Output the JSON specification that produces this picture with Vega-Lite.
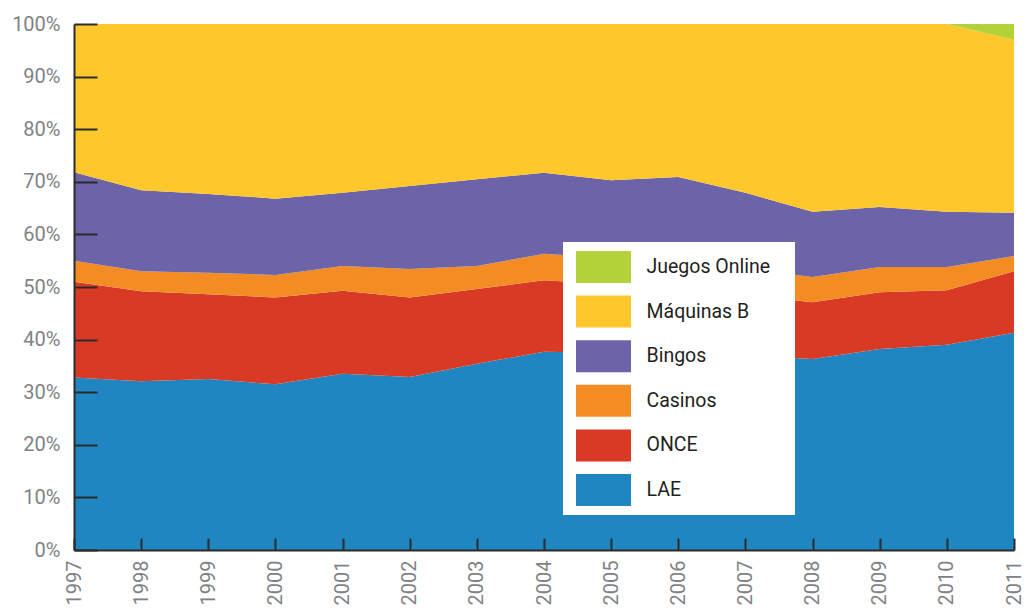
{
  "$schema": "https://vega.github.io/schema/vega-lite/v6.json",
  "width": 940,
  "height": 526,
  "autosize": {"type": "none"},
  "padding": {"left": 74, "top": 24, "right": 12, "bottom": 58},
  "background": "white",
  "config": {
    "view": {"stroke": null},
    "font": "Roboto"
  },
  "data": {
    "values": [
      {"year": 1997, "serie": "LAE", "k": 1, "value": 32.8},
      {"year": 1997, "serie": "ONCE", "k": 2, "value": 18.2},
      {"year": 1997, "serie": "Casinos", "k": 3, "value": 4.0},
      {"year": 1997, "serie": "Bingos", "k": 4, "value": 16.8},
      {"year": 1997, "serie": "Máquinas B", "k": 5, "value": 28.2},
      {"year": 1997, "serie": "Juegos Online", "k": 6, "value": 0},
      {"year": 1998, "serie": "LAE", "k": 1, "value": 32.1},
      {"year": 1998, "serie": "ONCE", "k": 2, "value": 17.1},
      {"year": 1998, "serie": "Casinos", "k": 3, "value": 3.8},
      {"year": 1998, "serie": "Bingos", "k": 4, "value": 15.4},
      {"year": 1998, "serie": "Máquinas B", "k": 5, "value": 31.6},
      {"year": 1998, "serie": "Juegos Online", "k": 6, "value": 0},
      {"year": 1999, "serie": "LAE", "k": 1, "value": 32.5},
      {"year": 1999, "serie": "ONCE", "k": 2, "value": 16.1},
      {"year": 1999, "serie": "Casinos", "k": 3, "value": 4.1},
      {"year": 1999, "serie": "Bingos", "k": 4, "value": 15.0},
      {"year": 1999, "serie": "Máquinas B", "k": 5, "value": 32.3},
      {"year": 1999, "serie": "Juegos Online", "k": 6, "value": 0},
      {"year": 2000, "serie": "LAE", "k": 1, "value": 31.5},
      {"year": 2000, "serie": "ONCE", "k": 2, "value": 16.5},
      {"year": 2000, "serie": "Casinos", "k": 3, "value": 4.3},
      {"year": 2000, "serie": "Bingos", "k": 4, "value": 14.5},
      {"year": 2000, "serie": "Máquinas B", "k": 5, "value": 33.2},
      {"year": 2000, "serie": "Juegos Online", "k": 6, "value": 0},
      {"year": 2001, "serie": "LAE", "k": 1, "value": 33.5},
      {"year": 2001, "serie": "ONCE", "k": 2, "value": 15.8},
      {"year": 2001, "serie": "Casinos", "k": 3, "value": 4.7},
      {"year": 2001, "serie": "Bingos", "k": 4, "value": 13.9},
      {"year": 2001, "serie": "Máquinas B", "k": 5, "value": 32.1},
      {"year": 2001, "serie": "Juegos Online", "k": 6, "value": 0},
      {"year": 2002, "serie": "LAE", "k": 1, "value": 32.9},
      {"year": 2002, "serie": "ONCE", "k": 2, "value": 15.1},
      {"year": 2002, "serie": "Casinos", "k": 3, "value": 5.4},
      {"year": 2002, "serie": "Bingos", "k": 4, "value": 15.8},
      {"year": 2002, "serie": "Máquinas B", "k": 5, "value": 30.8},
      {"year": 2002, "serie": "Juegos Online", "k": 6, "value": 0},
      {"year": 2003, "serie": "LAE", "k": 1, "value": 35.4},
      {"year": 2003, "serie": "ONCE", "k": 2, "value": 14.2},
      {"year": 2003, "serie": "Casinos", "k": 3, "value": 4.4},
      {"year": 2003, "serie": "Bingos", "k": 4, "value": 16.5},
      {"year": 2003, "serie": "Máquinas B", "k": 5, "value": 29.5},
      {"year": 2003, "serie": "Juegos Online", "k": 6, "value": 0},
      {"year": 2004, "serie": "LAE", "k": 1, "value": 37.7},
      {"year": 2004, "serie": "ONCE", "k": 2, "value": 13.6},
      {"year": 2004, "serie": "Casinos", "k": 3, "value": 5.0},
      {"year": 2004, "serie": "Bingos", "k": 4, "value": 15.4},
      {"year": 2004, "serie": "Máquinas B", "k": 5, "value": 28.3},
      {"year": 2004, "serie": "Juegos Online", "k": 6, "value": 0},
      {"year": 2005, "serie": "LAE", "k": 1, "value": 37.5},
      {"year": 2005, "serie": "ONCE", "k": 2, "value": 13.0},
      {"year": 2005, "serie": "Casinos", "k": 3, "value": 5.0},
      {"year": 2005, "serie": "Bingos", "k": 4, "value": 14.8},
      {"year": 2005, "serie": "Máquinas B", "k": 5, "value": 29.7},
      {"year": 2005, "serie": "Juegos Online", "k": 6, "value": 0},
      {"year": 2006, "serie": "LAE", "k": 1, "value": 38.5},
      {"year": 2006, "serie": "ONCE", "k": 2, "value": 11.5},
      {"year": 2006, "serie": "Casinos", "k": 3, "value": 5.0},
      {"year": 2006, "serie": "Bingos", "k": 4, "value": 15.9},
      {"year": 2006, "serie": "Máquinas B", "k": 5, "value": 29.1},
      {"year": 2006, "serie": "Juegos Online", "k": 6, "value": 0},
      {"year": 2007, "serie": "LAE", "k": 1, "value": 37.0},
      {"year": 2007, "serie": "ONCE", "k": 2, "value": 11.5},
      {"year": 2007, "serie": "Casinos", "k": 3, "value": 5.0},
      {"year": 2007, "serie": "Bingos", "k": 4, "value": 14.4},
      {"year": 2007, "serie": "Máquinas B", "k": 5, "value": 32.1},
      {"year": 2007, "serie": "Juegos Online", "k": 6, "value": 0},
      {"year": 2008, "serie": "LAE", "k": 1, "value": 36.3},
      {"year": 2008, "serie": "ONCE", "k": 2, "value": 10.8},
      {"year": 2008, "serie": "Casinos", "k": 3, "value": 4.8},
      {"year": 2008, "serie": "Bingos", "k": 4, "value": 12.4},
      {"year": 2008, "serie": "Máquinas B", "k": 5, "value": 35.7},
      {"year": 2008, "serie": "Juegos Online", "k": 6, "value": 0},
      {"year": 2009, "serie": "LAE", "k": 1, "value": 38.2},
      {"year": 2009, "serie": "ONCE", "k": 2, "value": 10.8},
      {"year": 2009, "serie": "Casinos", "k": 3, "value": 4.8},
      {"year": 2009, "serie": "Bingos", "k": 4, "value": 11.4},
      {"year": 2009, "serie": "Máquinas B", "k": 5, "value": 34.8},
      {"year": 2009, "serie": "Juegos Online", "k": 6, "value": 0},
      {"year": 2010, "serie": "LAE", "k": 1, "value": 39.0},
      {"year": 2010, "serie": "ONCE", "k": 2, "value": 10.4},
      {"year": 2010, "serie": "Casinos", "k": 3, "value": 4.4},
      {"year": 2010, "serie": "Bingos", "k": 4, "value": 10.5},
      {"year": 2010, "serie": "Máquinas B", "k": 5, "value": 35.7},
      {"year": 2010, "serie": "Juegos Online", "k": 6, "value": 0},
      {"year": 2011, "serie": "LAE", "k": 1, "value": 41.3},
      {"year": 2011, "serie": "ONCE", "k": 2, "value": 11.7},
      {"year": 2011, "serie": "Casinos", "k": 3, "value": 2.9},
      {"year": 2011, "serie": "Bingos", "k": 4, "value": 8.2},
      {"year": 2011, "serie": "Máquinas B", "k": 5, "value": 32.9},
      {"year": 2011, "serie": "Juegos Online", "k": 6, "value": 3.0}
    ]
  },
  "mark": {"type": "area", "interpolate": "linear", "opacity": 1},
  "encoding": {
    "x": {
      "field": "year",
      "type": "quantitative",
      "scale": {"domain": [1997, 2011], "nice": false, "zero": false},
      "axis": {
        "title": null,
        "values": [1997, 1998, 1999, 2000, 2001, 2002, 2003, 2004, 2005, 2006, 2007, 2008, 2009, 2010, 2011],
        "format": "d",
        "grid": false,
        "labelAngle": 270,
        "labelFontSize": 20,
        "labelColor": "#808285",
        "labelPadding": 22,
        "tickSize": -12,
        "tickWidth": 2,
        "tickColor": "#2b2b2b",
        "domainColor": "#2b2b2b",
        "domainWidth": 2,
        "labelFlush": false,
        "labelOverlap": false,
        "zindex": 1
      }
    },
    "y": {
      "field": "value",
      "type": "quantitative",
      "stack": "zero",
      "scale": {"domain": [0, 100], "nice": false},
      "axis": {
        "title": null,
        "values": [0, 10, 20, 30, 40, 50, 60, 70, 80, 90, 100],
        "labelExpr": "datum.value + '%'",
        "grid": false,
        "labelFontSize": 20,
        "labelColor": "#808285",
        "labelPadding": 37,
        "tickSize": -23,
        "tickWidth": 2,
        "tickColor": "#2b2b2b",
        "domainColor": "#2b2b2b",
        "domainWidth": 2,
        "labelFlush": false,
        "labelOverlap": false,
        "zindex": 1
      }
    },
    "color": {
      "field": "serie",
      "type": "nominal",
      "scale": {
        "domain": ["Juegos Online", "Máquinas B", "Bingos", "Casinos", "ONCE", "LAE"],
        "range": ["#b3d23a", "#fec72c", "#6c63a8", "#f28c23", "#d93a26", "#1f86c1"]
      },
      "legend": {
        "title": null,
        "orient": "none",
        "legendX": 489,
        "legendY": 218,
        "fillColor": "white",
        "padding": 9,
        "symbolType": "M-1.71875,-1H1.71875V1H-1.71875Z",
        "symbolSize": 1024,
        "symbolStrokeWidth": 0,
        "symbolOpacity": 1,
        "symbolOffset": 15.5,
        "labelOffset": 27,
        "labelFontSize": 19.5,
        "labelColor": "#231f20",
        "labelExpr": "datum.label + '\u2800'",
        "rowPadding": 12.6,
        "zindex": 2
      }
    },
    "order": {"field": "k", "type": "quantitative", "sort": "ascending"}
  }
}
